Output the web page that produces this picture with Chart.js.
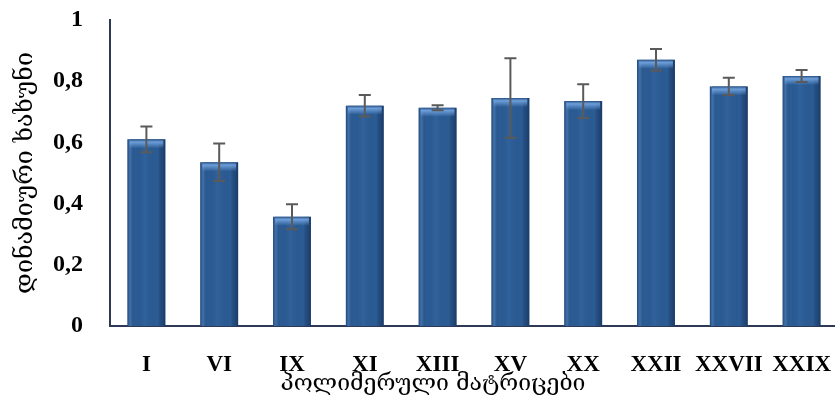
<!DOCTYPE html>
<html>
<head>
<meta charset="utf-8">
<script src="https://cdn.jsdelivr.net/npm/chart.js@4.4.1/dist/chart.umd.min.js"></script>
<style>
  html, body { margin: 0; padding: 0; background: #ffffff; overflow: hidden; }
  #wrap { width: 840px; height: 402px; }
</style>
</head>
<body>
<div id="wrap"><canvas id="c" width="840" height="402"></canvas></div>
<script>
// Polymer matrices and their dynamic friction coefficients
const matrices = ['I', 'VI', 'IX', 'XI', 'XIII', 'XV', 'XX', 'XXII', 'XXVII', 'XXIX'];
const friction = [0.61, 0.535, 0.357, 0.72, 0.713, 0.745, 0.735, 0.87, 0.783, 0.817];
const frictionErr = [0.042, 0.061, 0.041, 0.035, 0.008, 0.13, 0.055, 0.035, 0.028, 0.02];
const yTicks = [0, 0.2, 0.4, 0.6, 0.8, 1];

const yTitle = 'დინამიური ხახუნი';
const xTitle = 'პოლიმერული მატრიცები';

const serif = '"Liberation Serif", "DejaVu Serif", serif';
const geo = '"DejaVu Serif", "DejaVu Sans", serif';

// Shading of bar columns plus error whiskers
const barDecor = {
  id: 'barDecor',
  afterDatasetsDraw(chart) {
    const ctx = chart.ctx;
    const meta = chart.getDatasetMeta(0);
    const y = chart.scales.y;
    meta.data.forEach((bar, i) => {
      const left = bar.x - bar.width / 2;
      const right = bar.x + bar.width / 2;
      const top = bar.y;
      const bottom = bar.base;
      // side shading
      const g = ctx.createLinearGradient(left, 0, right, 0);
      g.addColorStop(0, 'rgba(20,45,85,0.55)');
      g.addColorStop(0.08, 'rgba(120,170,225,0.25)');
      g.addColorStop(0.2, 'rgba(0,0,0,0)');
      g.addColorStop(0.45, 'rgba(90,140,200,0.12)');
      g.addColorStop(0.8, 'rgba(0,0,0,0)');
      g.addColorStop(0.92, 'rgba(15,35,70,0.35)');
      g.addColorStop(1, 'rgba(15,35,70,0.6)');
      ctx.save();
      ctx.fillStyle = g;
      ctx.fillRect(left, top, right - left, bottom - top);
      // top highlight band
      const h = ctx.createLinearGradient(0, top, 0, top + 9);
      h.addColorStop(0, 'rgba(40,80,130,0.9)');
      h.addColorStop(0.3, 'rgba(120,170,230,0.85)');
      h.addColorStop(1, 'rgba(120,170,230,0)');
      ctx.fillStyle = h;
      ctx.fillRect(left + 2, top, right - left - 4, 9);
      ctx.restore();

      // error whisker
      const v = friction[i], e = frictionErr[i];
      const yHi = y.getPixelForValue(v + e);
      const yLo = y.getPixelForValue(v - e);
      const cap = 6;
      ctx.save();
      ctx.strokeStyle = '#5a5a5a';
      ctx.lineWidth = 2;
      ctx.beginPath();
      ctx.moveTo(bar.x, yHi); ctx.lineTo(bar.x, yLo);
      ctx.moveTo(bar.x - cap, yHi); ctx.lineTo(bar.x + cap, yHi);
      ctx.moveTo(bar.x - cap, yLo); ctx.lineTo(bar.x + cap, yLo);
      ctx.stroke();
      ctx.restore();
    });
  }
};

// Axis title under the category labels
const xAxisTitle = {
  id: 'xAxisTitle',
  afterDraw(chart) {
    const ctx = chart.ctx;
    const a = chart.chartArea;
    ctx.save();
    ctx.font = '23px ' + geo;
    ctx.fillStyle = '#000';
    ctx.textAlign = 'center';
    ctx.textBaseline = 'middle';
    ctx.fillText(xTitle, a.left + 323, a.bottom + 58);
    ctx.restore();
  }
};

new Chart(document.getElementById('c'), {
  type: 'bar',
  data: {
    labels: matrices,
    datasets: [{
      data: friction,
      backgroundColor: '#2b5c95',
      borderWidth: 0,
      barPercentage: 0.52,
      categoryPercentage: 1
    }]
  },
  options: {
    responsive: false,
    animation: false,
    devicePixelRatio: 1,
    layout: { padding: { top: 20, left: 10, right: 2, bottom: 0 } },
    plugins: { legend: { display: false }, tooltip: { enabled: false } },
    scales: {
      x: {
        grid: { display: false, drawTicks: false },
        border: { color: '#2e3a55', width: 2 },
        ticks: { color: '#000', font: { family: serif, size: 23, weight: 'bold' }, padding: 25, maxRotation: 0, autoSkip: false },
        afterFit(s) { s.height = 76; s.paddingLeft = 0; s.paddingRight = 0; }
      },
      y: {
        min: 0, max: 1,
        afterBuildTicks(s) { s.ticks = yTicks.map(v => ({ value: v })); },
        grid: { display: false, drawTicks: false },
        border: { color: '#2e3a55', width: 2 },
        ticks: {
          color: '#000', padding: 27,
          font: { family: serif, size: 24, weight: 'bold' },
          callback: v => String(v).replace('.', ',')
        },
        title: { display: true, text: yTitle, color: '#000', font: { family: geo, size: 25 }, padding: { top: 0, bottom: 0 } },
        afterFit(s) { s.width = 100; s.paddingTop = 0; s.paddingBottom = 0; }
      }
    }
  },
  plugins: [barDecor, xAxisTitle]
});
</script>
</body>
</html>
